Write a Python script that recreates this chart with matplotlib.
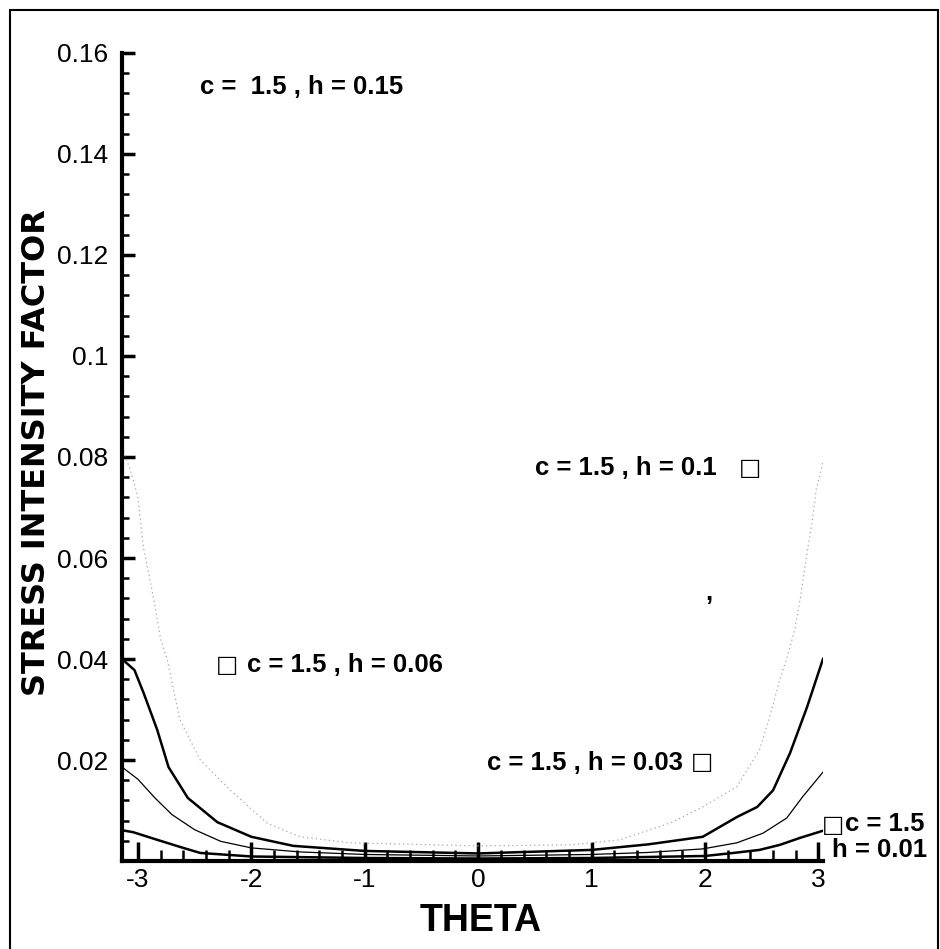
import matplotlib.pyplot as plt
from matplotlib.patches import Rectangle
from matplotlib.ticker import MultipleLocator

# stress intensity factor vs theta, c = 1.5, several h
theta_h01 = [-3.14, -3.06, -3.0, -2.95, -2.87, -2.80, -2.74, -2.63, -2.45, -2.16, -1.86, -1.57,
             -1.13, 0.0, 0.81, 1.25, 1.69, 1.98, 2.28, 2.48, 2.57, 2.66, 2.72, 2.79, 2.84,
             2.90, 2.95, 2.98, 3.04]
sif_h01 = [0.082, 0.077, 0.072, 0.062, 0.053, 0.044, 0.0398, 0.028, 0.020, 0.0135, 0.0075, 0.0048,
           0.0036, 0.003, 0.0032, 0.0042, 0.0075, 0.0107, 0.0147, 0.022, 0.0285, 0.036, 0.040,
           0.0457, 0.052, 0.061, 0.068, 0.0735, 0.079]

theta_h006 = [-3.14, -3.03, -2.95, -2.83, -2.73, -2.56, -2.30, -2.0, -1.63, -1.0, 0.0, 1.0, 1.5,
              1.98, 2.28, 2.46, 2.60, 2.75, 2.90, 3.04]
sif_h006 = [0.040, 0.0378, 0.0333, 0.026, 0.0186, 0.0125, 0.0077, 0.0048, 0.003, 0.002, 0.0015,
            0.0022, 0.0033, 0.0048, 0.0087, 0.0107, 0.014, 0.0214, 0.0305, 0.040]

theta_h003 = [-3.14, -3.0, -2.85, -2.7, -2.5, -2.27, -2.0, -1.57, -1.0, 0.0, 1.0, 1.5, 1.98,
              2.28, 2.51, 2.72, 2.86, 3.04]
sif_h003 = [0.0186, 0.0162, 0.0125, 0.0092, 0.0062, 0.0039, 0.0026, 0.0018, 0.0013, 0.001, 0.0013,
            0.0017, 0.0024, 0.0036, 0.0055, 0.0085, 0.0127, 0.0176]

theta_h001 = [-3.14, -3.04, -2.83, -2.6, -2.45, -2.0, -1.0, 0.0, 1.0, 2.0, 2.25, 2.48, 2.66,
              2.84, 3.04]
sif_h001 = [0.0061, 0.0057, 0.0042, 0.0026, 0.0016, 0.0009, 0.0006, 0.0005, 0.0006, 0.001, 0.0016,
            0.0022, 0.0032, 0.0046, 0.006]

xticks = [-3, -2, -1, 0, 1, 2, 3]
yticks = [0.02, 0.04, 0.06, 0.08, 0.1, 0.12, 0.14, 0.16]
ytick_labels = ["0.02", "0.04", "0.06", "0.08", "0.1", "0.12", "0.14", "0.16"]

lib = ["Liberation Sans", "DejaVu Sans"]

fig = plt.figure(figsize=(9.4, 9.49), dpi=100)
fig.patches.append(Rectangle((0.0106, -0.02), 0.987, 1.0095, transform=fig.transFigure,
                             fill=False, lw=1.5, ec="black"))
ax = fig.add_axes([0.1298, 0.0927, 0.7457, 0.8515])

ax.plot(theta_h01, sif_h01, color="#a8a8a8", lw=0.9, ls=(0, (1, 2.5)))
ax.plot(theta_h006, sif_h006, color="black", lw=1.8)
ax.plot(theta_h003, sif_h003, color="black", lw=0.9)
ax.plot(theta_h001, sif_h001, color="black", lw=1.8)

ax.set_xlim(-3.14, 3.04)
ax.set_ylim(0, 0.16)
for side in ["top", "right"]:
    ax.spines[side].set_visible(False)
for side in ["left", "bottom"]:
    ax.spines[side].set_linewidth(3)

ax.set_xticks(xticks, labels=[str(t) for t in xticks])
ax.set_yticks(yticks, labels=ytick_labels)
ax.xaxis.set_minor_locator(MultipleLocator(0.2))
ax.yaxis.set_minor_locator(MultipleLocator(0.004))
ax.tick_params(axis="both", which="both", direction="in")
ax.tick_params(axis="x", which="major", length=14, width=2.5, pad=5)
ax.tick_params(axis="x", which="minor", length=8, width=1.8)
ax.tick_params(axis="y", which="major", length=9, width=2.5, pad=10)
ax.tick_params(axis="y", which="minor", length=5, width=1.8)
for lab in ax.get_xticklabels() + ax.get_yticklabels():
    lab.set_family(lib)
    lab.set_fontsize(19)

ax.set_xlabel("THETA", family=lib, fontsize=27, fontweight="bold")
ax.xaxis.set_label_coords(0.511, -0.052)
ax.set_ylabel("STRESS INTENSITY FACTOR", family="DejaVu Sans", fontsize=23,
              fontweight="bold")
ax.yaxis.set_label_coords(-0.10, 0.505)

lab_kw = dict(family=lib, fontsize=18.5, fontweight="bold", va="center")
sq_kw = dict(family="DejaVu Sans", fontsize=17, va="center", ha="center")

ax.text(-2.45, 0.1533, "c =  1.5 , h = 0.15", **lab_kw)
ax.text(0.50, 0.0778, "c = 1.5 , h = 0.1", **lab_kw)
ax.text(2.40, 0.0778, "\u25a1", **sq_kw)
ax.text(-2.21, 0.0388, "\u25a1", **sq_kw)
ax.text(-2.04, 0.0388, "c = 1.5 , h = 0.06", **lab_kw)
ax.text(0.08, 0.0194, "c = 1.5 , h = 0.03", **lab_kw)
ax.text(1.97, 0.0196, "\u25a1", **sq_kw)
ax.text(3.13, 0.0072, "\u25a1", clip_on=False, **sq_kw)
ax.text(3.235, 0.0073, "c = 1.5", clip_on=False, **lab_kw)
ax.text(3.12, 0.0021, "h = 0.01", clip_on=False, **lab_kw)
ax.text(2.0, 0.053, ",", **lab_kw)

fig.savefig("out.png", dpi=100)
